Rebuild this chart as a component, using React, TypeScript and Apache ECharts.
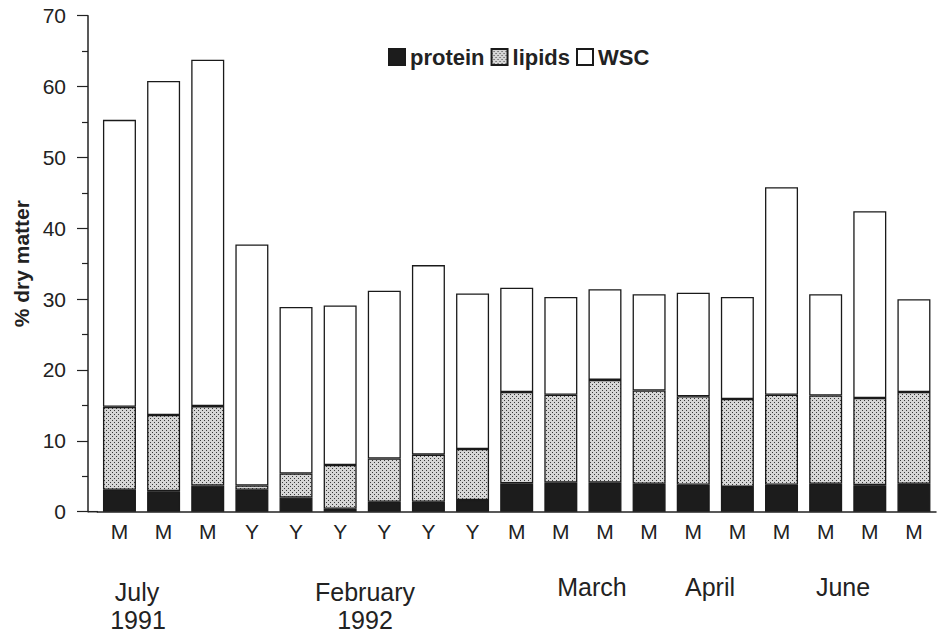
import React, { useEffect, useRef } from "react";
import * as echarts from "echarts";

const categories = ["M", "M", "M", "Y", "Y", "Y", "Y", "Y", "Y", "M", "M", "M", "M", "M", "M", "M", "M", "M", "M"];
const protein = [3.1, 2.9, 3.7, 3.1, 2.0, 0.4, 1.4, 1.4, 1.65, 4.0, 4.1, 4.1, 3.95, 3.8, 3.5, 3.8, 3.95, 3.75, 3.95];
const lipids = [11.7, 10.75, 11.2, 0.6, 3.4, 6.2, 6.1, 6.65, 7.2, 12.9, 12.4, 14.5, 13.15, 12.5, 12.4, 12.7, 12.45, 12.3, 12.95];
const wsc = [40.5, 47.15, 48.9, 34.0, 23.5, 22.5, 23.7, 26.75, 21.95, 14.7, 13.8, 12.8, 13.6, 14.6, 14.4, 29.3, 14.3, 26.35, 13.1];
const seriesNames = ["protein", "lipids", "WSC"];
const yTicks = { min: 0, max: 70, interval: 10 };
const periodLabels = [
  { text: "July", x: 137, y: 579 },
  { text: "1991", x: 138, y: 607 },
  { text: "February", x: 365, y: 579 },
  { text: "1992", x: 365, y: 607 },
  { text: "March", x: 592, y: 574 },
  { text: "April", x: 710, y: 574 },
  { text: "June", x: 843, y: 574 },
];

const FONT = "'Liberation Sans', Arial, Helvetica, sans-serif";

function makePattern(): HTMLCanvasElement {
  const c = document.createElement("canvas");
  c.width = 4;
  c.height = 4;
  const ctx = c.getContext("2d")!;
  ctx.fillStyle = "#d6d6d6";
  ctx.fillRect(0, 0, 4, 4);
  ctx.fillStyle = "#3a3a3a";
  ctx.fillRect(0, 0, 1, 1);
  ctx.fillRect(2, 2, 1, 1);
  return c;
}

export default function App() {
  const ref = useRef<HTMLDivElement>(null);
  useEffect(() => {
    if (!ref.current) return;
    const chart = echarts.init(ref.current, null, { renderer: "svg" });
    const pattern = makePattern();
    const border = { borderColor: "#1a1a1a", borderWidth: 1.3 };
    const colors: any[] = [
      "#1c1c1c",
      { image: pattern, repeat: "repeat", imageWidth: 4, imageHeight: 4 },
      "#ffffff",
    ];
    const dataSets = [protein, lipids, wsc];
    chart.setOption({
      animation: false,
      backgroundColor: "#ffffff",
      grid: { left: 97.4, right: 2, top: 15.7, bottom: 122.3 },
      legend: {
        data: seriesNames,
        left: 383,
        top: 41,
        itemWidth: 16,
        itemHeight: 16,
        itemGap: 6,
        icon: "rect",
        textStyle: { fontFamily: FONT, fontSize: 22, fontWeight: "bold", color: "#222" },
      },
      xAxis: {
        type: "category",
        data: categories,
        axisLine: { show: true, lineStyle: { color: "#222", width: 1.5 } },
        axisTick: { show: false },
        axisLabel: { fontFamily: FONT, fontSize: 21, color: "#222", margin: 9 },
      },
      yAxis: {
        type: "value",
        min: yTicks.min,
        max: yTicks.max,
        interval: yTicks.interval,
        offset: 9.4,
        name: "% dry matter",
        nameLocation: "middle",
        nameGap: 56,
        nameTextStyle: { fontFamily: FONT, fontSize: 21, fontWeight: "bold", color: "#222" },
        axisLine: { show: true, lineStyle: { color: "#222", width: 1.5 } },
        axisTick: { show: true, length: 11, lineStyle: { color: "#222", width: 1.2 } },
        minorTick: { show: true, splitNumber: 2, length: 6, lineStyle: { color: "#222", width: 1.2 } },
        splitLine: { show: false },
        axisLabel: { fontFamily: FONT, fontSize: 21, color: "#222", margin: 22 },
      },
      graphic: [
        {
          type: "line",
          shape: { x1: 88, y1: 511.7, x2: 98, y2: 511.7 },
          style: { stroke: "#222", lineWidth: 1.5 },
          silent: true,
        },
        ...periodLabels.map((p) => ({
          type: "text",
          x: p.x,
          y: p.y,
          style: {
            text: p.text,
            fontFamily: FONT,
            fontSize: 25,
            fill: "#222",
            textAlign: "center",
            textVerticalAlign: "top",
            lineHeight: 25,
          },
          silent: true,
        })),
      ],
      series: seriesNames.map((name, i) => ({
        name,
        type: "bar",
        stack: "total",
        barWidth: 33,
        data: dataSets[i],
        itemStyle: { color: colors[i], ...border },
        emphasis: { disabled: true },
      })),
    });
    return () => chart.dispose();
  }, []);
  return (
    <div
      ref={ref}
      style={{ position: "fixed", left: 0, top: 0, width: 938, height: 634, background: "#fff" }}
    />
  );
}
